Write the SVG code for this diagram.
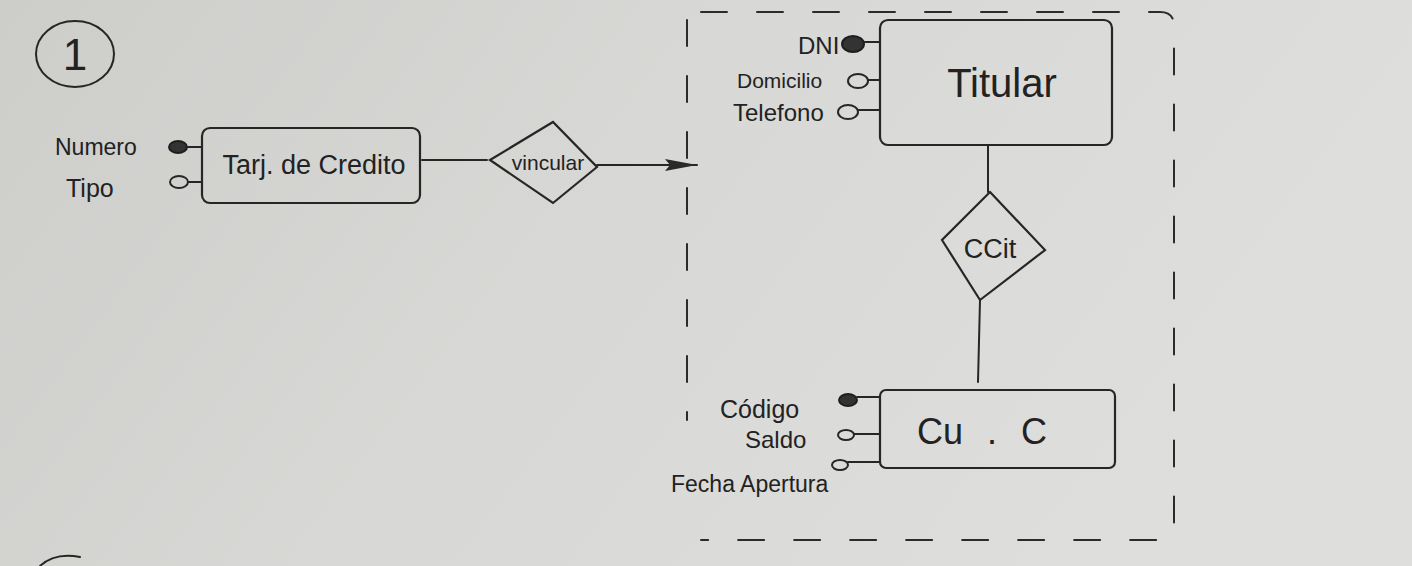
<svg xmlns="http://www.w3.org/2000/svg" width="1412" height="566" viewBox="0 0 1412 566">
<defs>
<linearGradient id="bg" x1="0" y1="0" x2="1" y2="0.3">
<stop offset="0" stop-color="#cdcdca"/>
<stop offset="0.5" stop-color="#d8d8d6"/>
<stop offset="1" stop-color="#dededc"/>
</linearGradient>
<marker id="arr" viewBox="0 0 32 14" refX="32" refY="7" markerWidth="32" markerHeight="14" markerUnits="userSpaceOnUse" orient="auto">
<path d="M0,1 L32,7 L0,13 L5,7 Z" fill="#2a2a2a"/>
</marker>
<style>
.ln{fill:none;stroke:#262626;stroke-width:2;stroke-linecap:round;stroke-linejoin:round}
.ent{fill:none;stroke:#262626;stroke-width:2.2}
.t{font-family:"Liberation Sans",Arial,sans-serif;fill:#222}
.key{fill:#333;stroke:#1e1e1e;stroke-width:2}
.att{fill:none;stroke:#262626;stroke-width:2}
.dash{fill:none;stroke:#2b2b2b;stroke-width:2;stroke-dasharray:26 30;stroke-linecap:round}
</style>
</defs>
<rect width="1412" height="566" fill="url(#bg)"/>

<g id="label-1">
<ellipse cx="75" cy="54" rx="39" ry="33" class="ln"/>
<text x="75" y="70" text-anchor="middle" class="t" font-size="44">1</text>
</g>

<g id="group-box">
<path d="M701,12 L1160,12 Q1174,12 1174,26 L1174,526 Q1174,540 1160,540 L701,540" class="dash"/>
<path d="M687,20 L687,420" class="dash"/>
</g>

<g id="tarjeta">
<rect x="202" y="128" width="218" height="75" rx="8" class="ent"/>
<text x="314" y="174" text-anchor="middle" class="t" font-size="27">Tarj. de Credito</text>
</g>

<g id="attr-numero">
<text x="55" y="155" class="t" font-size="23">Numero</text>
<ellipse cx="178" cy="147" rx="9" ry="6" class="key"/>
<line x1="187" y1="147" x2="202" y2="147" class="ln"/>
</g>
<g id="attr-tipo">
<text x="66" y="197" class="t" font-size="25">Tipo</text>
<ellipse cx="179" cy="182" rx="9" ry="6" class="att"/>
<line x1="188" y1="182" x2="202" y2="182" class="ln"/>
</g>

<g id="vincular">
<path d="M490,160 L553,122 L597,167 L553,203 Z" class="ent"/>
<text x="548" y="170" text-anchor="middle" class="t" font-size="21">vincular</text>
</g>

<g id="titular">
<rect x="880" y="20" width="232" height="125" rx="8" class="ent"/>
<text x="1002" y="97" text-anchor="middle" class="t" font-size="40">Titular</text>
</g>
<g id="attr-dni">
<text x="798" y="54" class="t" font-size="24">DNI</text>
<ellipse cx="853" cy="44" rx="11" ry="8" class="key"/>
<line x1="864" y1="42" x2="880" y2="42" class="ln"/>
</g>
<g id="attr-domicilio">
<text x="737" y="88" class="t" font-size="21">Domicilio</text>
<ellipse cx="858" cy="81" rx="10" ry="7" class="att"/>
<line x1="868" y1="80" x2="880" y2="80" class="ln"/>
</g>
<g id="attr-telefono">
<text x="733" y="121" class="t" font-size="24">Telefono</text>
<ellipse cx="848" cy="112" rx="10" ry="7" class="att"/>
<line x1="858" y1="110" x2="880" y2="110" class="ln"/>
</g>

<g id="ccit">
<path d="M990,192 L1045,250 L980,300 L942,240 Z" class="ent"/>
<text x="990" y="258" text-anchor="middle" class="t" font-size="27">CCit</text>
</g>

<g id="cuenta">
<rect x="880" y="390" width="235" height="78" rx="6" class="ent"/>
<text x="982" y="444" text-anchor="middle" class="t" font-size="36" word-spacing="14">Cu . C</text>
</g>
<g id="attr-codigo">
<text x="720" y="418" class="t" font-size="25">Código</text>
<ellipse cx="848" cy="400" rx="9" ry="6" class="key"/>
<line x1="857" y1="397" x2="880" y2="397" class="ln"/>
</g>
<g id="attr-saldo">
<text x="745" y="448" class="t" font-size="24">Saldo</text>
<ellipse cx="846" cy="435" rx="8" ry="5" class="att"/>
<line x1="854" y1="434" x2="880" y2="434" class="ln"/>
</g>
<g id="attr-fecha">
<text x="671" y="492" class="t" font-size="23">Fecha Apertura</text>
<ellipse cx="840" cy="465" rx="8" ry="5" class="att"/>
<line x1="848" y1="462" x2="880" y2="462" class="ln"/>
</g>

<g id="connectors">
<line x1="422" y1="160" x2="487" y2="160" class="ln"/>
<line x1="597" y1="165" x2="697" y2="165" class="ln" marker-end="url(#arr)"/>
<line x1="988" y1="145" x2="988" y2="192" class="ln"/>
<line x1="980" y1="300" x2="978" y2="382" class="ln"/>
</g>

<path d="M40,566 Q55,552 80,557" class="ln"/>
</svg>
